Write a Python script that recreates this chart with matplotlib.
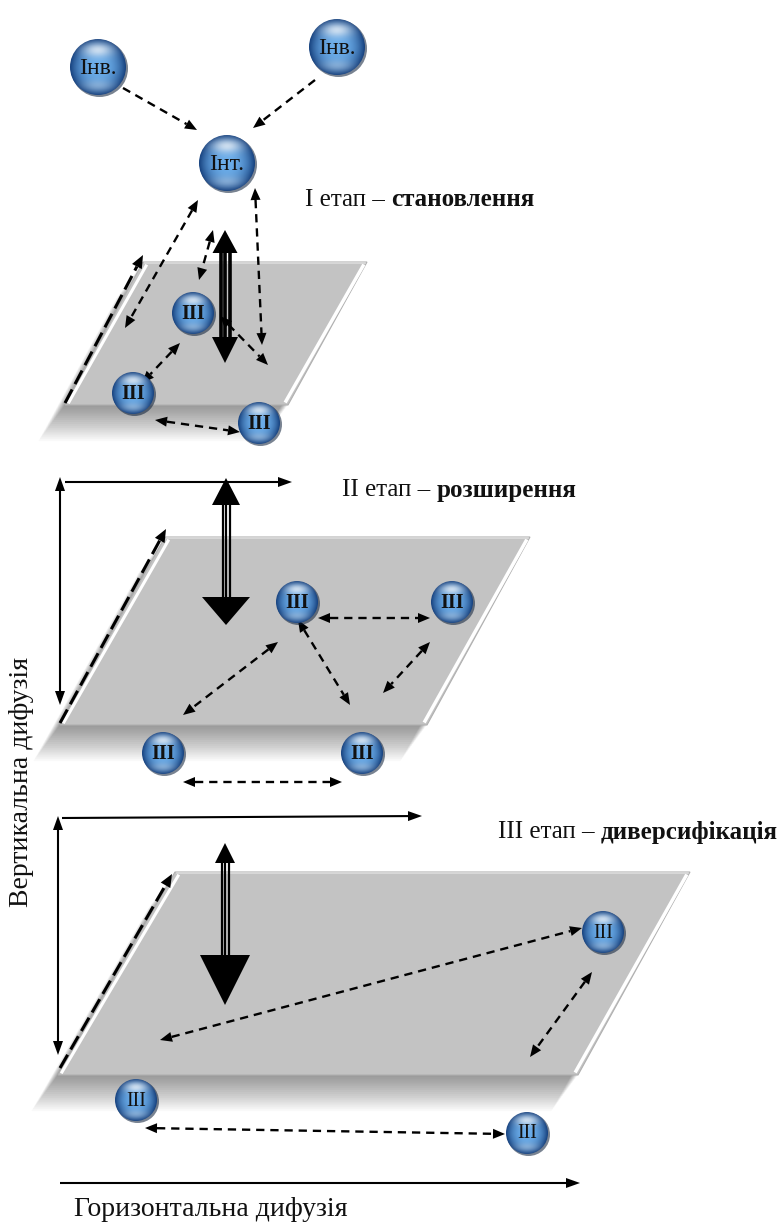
import numpy as np
import matplotlib
matplotlib.use("Agg")
import matplotlib.pyplot as plt
from matplotlib.patches import Polygon, Circle

plt.rcParams['font.family'] = ['Liberation Serif', 'DejaVu Serif']

# planes: corners (top-left, top-right, bottom-right, bottom-left)
plane1 = [(143, 262), (367, 262), (288, 405), (65, 405)]
plane2 = [(165, 537), (530, 537), (427, 725), (60, 725)]
plane3 = [(175, 872), (690, 872), (578, 1075), (58, 1075)]
planes = [plane1, plane2, plane3]

# spheres
node_x = [98, 337, 227, 193, 133, 259, 297, 452, 163, 362, 603, 136, 527]
node_y = [67, 47, 163, 313, 393, 423, 602, 602, 753, 753, 932, 1100, 1133]
node_r = [28, 28, 28, 21, 21, 21, 21, 21, 21, 21, 21, 21, 21]
node_label = ['Інв.', 'Інв.', 'Інт.', 'ІІІ', 'ІІІ', 'ІІІ', 'ІІІ', 'ІІІ', 'ІІІ', 'ІІІ', 'ІІІ', 'ІІІ', 'ІІІ']
node_bold = [False, False, False, True, True, True, True, True, True, True, False, False, False]

# dashed links: x0, y0, x1, y1, both heads
dash_links = [
    (123, 88, 197, 130, False),
    (315, 80, 253, 128, False),
    (198, 200, 125, 328, True),
    (213, 230, 199, 280, True),
    (255, 188, 262, 345, True),
    (220, 316, 268, 365, True),
    (180, 343, 142, 383, True),
    (155, 420, 240, 432, True),
    (318, 618, 430, 618, True),
    (298, 620, 350, 705, True),
    (278, 642, 183, 715, True),
    (430, 642, 383, 693, True),
    (183, 782, 342, 782, True),
    (160, 1040, 582, 928, True),
    (592, 972, 530, 1057, True),
    (145, 1128, 505, 1134, True),
]

# dashed arrows along the left edge of each plane
edge_links = [
    (65, 403, 143, 255),
    (60, 723, 166, 529),
    (60, 1068, 172, 874),
]

# thick vertical arrows: x, top tip, top base, top half width, bottom base, bottom tip, bottom half width
thick_x = [225, 226, 225]
thick_top = [230, 478, 843]
thick_top_base = [253, 505, 863]
thick_top_hw = [12.5, 14, 10]
thick_bot_base = [337, 597, 955]
thick_bot_tip = [363, 625, 1005]
thick_bot_hw = [13, 24, 25]

# solid axis arrows: x0, y0, x1, y1, both heads
axis_links = [
    (65, 482, 292, 482, False),
    (60, 705, 60, 477, True),
    (62, 818, 422, 816, False),
    (58, 1055, 58, 816, True),
    (60, 1183, 580, 1183, False),
]

stage_plain = ['I етап – ', 'II етап – ', 'III етап – ']
stage_bold = ['становлення', 'розширення', 'диверсифікація']
stage_x = [305, 342, 498]
stage_y = [200, 490, 832]

fig = plt.figure(figsize=(7.8, 12.22), dpi=100)
ax = fig.add_axes([0, 0, 1, 1])
ax.axis('off')


def head(x0, y0, x1, y1, L, W, z=6):
    d = np.hypot(x1 - x0, y1 - y0)
    ux, uy = (x1 - x0) / d, (y1 - y0) / d
    bx, by = x1 - ux * L, y1 - uy * L
    px, py = -uy, ux
    ax.add_patch(Polygon([(x1, y1), (bx + px * W, by + py * W), (bx - px * W, by - py * W)],
                         closed=True, color='black', lw=0, zorder=z))
    return bx, by


def arrow(x0, y0, x1, y1, both, ls, lw, L=12, W=5, z=6):
    bx, by = head(x0, y0, x1, y1, L, W, z)
    sx, sy = x0, y0
    if both:
        sx, sy = head(x1, y1, x0, y0, L, W, z)
    ax.plot([sx, bx], [sy, by], color='black', lw=lw, ls=ls, zorder=z, solid_capstyle='butt')


# planes with soft drop shadows
for p in planes:
    pts = np.array(p, dtype=float)
    for k in range(1, 20):
        sh = pts + np.array([-1.4 * k, 1.9 * k])
        ax.add_patch(Polygon(sh, closed=True, color='black', alpha=0.022, lw=0, zorder=1))
    ax.add_patch(Polygon(pts, closed=True, facecolor='#c3c3c3', edgecolor='#b0b0b0', lw=0.8, zorder=2))
    # bevel highlights on the slanted edges
    ax.plot([pts[3, 0] + 4, pts[0, 0] + 3], [pts[3, 1] - 3, pts[0, 1] + 4], color='white', lw=2.2, zorder=3)
    ax.plot([pts[2, 0] - 2, pts[1, 0] - 4], [pts[2, 1] - 4, pts[1, 1] + 4], color='white', lw=2.5, zorder=3)
    ax.plot([pts[0, 0] + 2, pts[1, 0] - 2], [pts[0, 1] + 1, pts[1, 1] + 1], color='#dcdcdc', lw=1.2, zorder=3)

for (x0, y0, x1, y1) in edge_links:
    arrow(x0, y0, x1, y1, False, (0, (5, 2)), 2.2, L=13, W=5.5)

for (x0, y0, x1, y1, both) in dash_links:
    arrow(x0, y0, x1, y1, both, (0, (3.5, 2.5)), 1.7, L=12, W=5)

for (x0, y0, x1, y1, both) in axis_links:
    arrow(x0, y0, x1, y1, both, '-', 1.5, L=14, W=5)

for i in range(len(thick_x)):
    x = thick_x[i]
    ax.add_patch(Polygon([(x, thick_top[i]), (x - thick_top_hw[i], thick_top_base[i]),
                          (x + thick_top_hw[i], thick_top_base[i])], closed=True, color='black', lw=0, zorder=7))
    ax.add_patch(Polygon([(x, thick_bot_tip[i]), (x - thick_bot_hw[i], thick_bot_base[i]),
                          (x + thick_bot_hw[i], thick_bot_base[i])], closed=True, color='black', lw=0, zorder=7))
    off = 4.5 if i == 0 else 3.5
    lw = 2.6 if i == 0 else 1.6
    for dx in (-off, 0, off):
        ax.plot([x + dx, x + dx], [thick_top_base[i] - 1, thick_bot_base[i] + 1], color='black', lw=lw, zorder=7)

# spheres
n = 90
v, u = np.mgrid[-1:1:n * 1j, -1:1:n * 1j]
rr = np.clip(np.sqrt(u ** 2 + v ** 2), 0, 1)
c_in = np.array([0.42, 0.68, 0.92])
c_out = np.array([0.09, 0.26, 0.50])
t = rr ** 2.4
img = c_in * (1 - t[..., None]) + c_out * t[..., None]
hl = np.exp(-((u / 0.55) ** 2 + ((v + 0.62) / 0.26) ** 2)) * 0.7
img = img + (1 - img) * hl[..., None]
glow = np.exp(-((u / 0.6) ** 2 + ((v - 0.68) / 0.22) ** 2)) * 0.3
img = img + (1 - img) * glow[..., None]
img = np.clip(img, 0, 1)

for i in range(len(node_x)):
    x, y, r = node_x[i], node_y[i], node_r[i]
    ax.add_patch(Circle((x + 1.5, y + 1.5), r + 0.5, color='#0b1e38', alpha=0.55, lw=0, zorder=8))
    im = ax.imshow(img, extent=(x - r, x + r, y + r, y - r), zorder=9, interpolation='bilinear', aspect='auto')
    im.set_clip_path(Circle((x, y), r, transform=ax.transData))
    big = r > 25
    ax.text(x, y + 1, node_label[i], fontsize=17 if big else 14.5,
            fontweight='bold' if node_bold[i] else 'normal',
            color='#111111', ha='center', va='center', zorder=10)

ax.set_xlim(0, 780)
ax.set_ylim(1222, 0)

# stage labels: plain part followed by bold part
fig.canvas.draw()
renderer = fig.canvas.get_renderer()
for i in range(3):
    t1 = ax.text(stage_x[i], stage_y[i], stage_plain[i], fontsize=18, ha='left', va='center', color='#111111', zorder=10)
    bb = t1.get_window_extent(renderer=renderer)
    xr = ax.transData.inverted().transform((bb.x1, bb.y0))[0]
    ax.text(xr, stage_y[i], stage_bold[i], fontsize=18, fontweight='bold', ha='left', va='center', color='#111111', zorder=10)

ax.text(74, 1210, 'Горизонтальна дифузія', fontsize=20, ha='left', va='center', color='#111111')
ax.text(22, 782, 'Вертикальна дифузія', fontsize=20, ha='center', va='center', rotation=90, color='#111111')

fig.savefig('out.png', dpi=100)
